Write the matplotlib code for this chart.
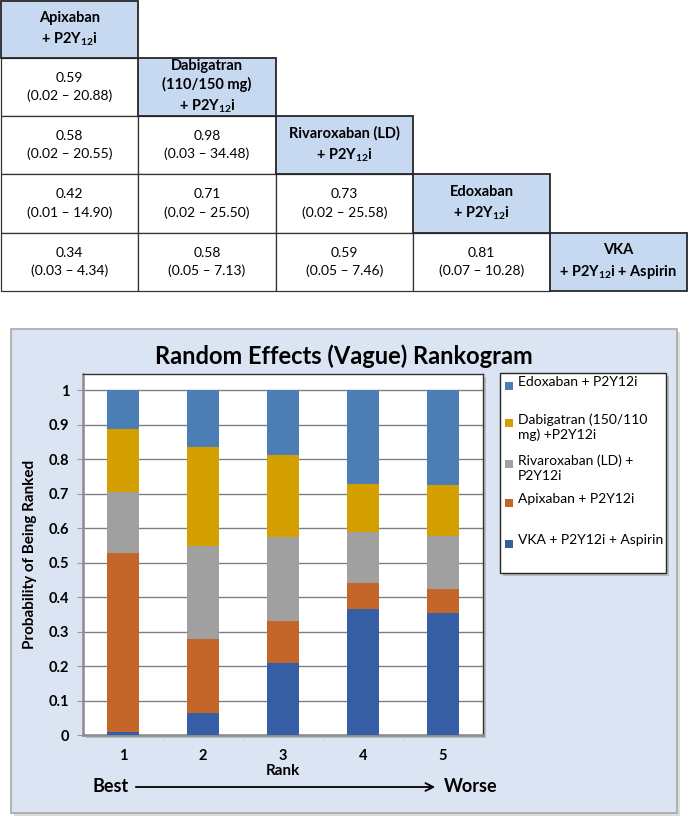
import matplotlib.pyplot as plt
import numpy as np
from matplotlib.patches import Rectangle

plt.rcParams['font.family'] = ['Lato', 'DejaVu Sans']
plt.rcParams['mathtext.fontset'] = 'custom'
plt.rcParams['mathtext.rm'] = 'Lato'
plt.rcParams['mathtext.bf'] = 'Lato:bold'

# league table (odds ratios with 95% CrI)
headers = [
    "Apixaban\n+ P2Y$_{\\mathbf{12}}$i",
    "Dabigatran\n(110/150 mg)\n+ P2Y$_{\\mathbf{12}}$i",
    "Rivaroxaban (LD)\n+ P2Y$_{\\mathbf{12}}$i",
    "Edoxaban\n+ P2Y$_{\\mathbf{12}}$i",
    "VKA\n+ P2Y$_{\\mathbf{12}}$i + Aspirin",
]
or_mean = [[], [0.59], [0.58, 0.98], [0.42, 0.71, 0.73], [0.34, 0.58, 0.59, 0.81]]
or_low = [[], [0.02], [0.02, 0.03], [0.01, 0.02, 0.02], [0.03, 0.05, 0.05, 0.07]]
or_high = [[], [20.88], [20.55, 34.48], [14.90, 25.50, 25.58], [4.34, 7.13, 7.46, 10.28]]

# rankogram
ranks = [1, 2, 3, 4, 5]
vka = [0.008, 0.063, 0.210, 0.365, 0.354]
apix = [0.519, 0.215, 0.121, 0.075, 0.070]
riva = [0.177, 0.271, 0.245, 0.149, 0.154]
dabi = [0.184, 0.288, 0.236, 0.140, 0.148]
edox = [0.112, 0.163, 0.188, 0.271, 0.274]
series = [vka, apix, riva, dabi, edox]
names = ["VKA + P2Y12i + Aspirin", "Apixaban + P2Y12i", "Rivaroxaban (LD) +\nP2Y12i",
         "Dabigatran (150/110\nmg) +P2Y12i", "Edoxaban + P2Y12i"]
colores = ["#355ea5", "#c4652a", "#a0a0a0", "#d4a000", "#4a7eb4"]

W, H = 689, 821
fig = plt.figure(figsize=(W / 100, H / 100), dpi=100)
bg = fig.add_axes([0, 0, 1, 1])
bg.set_xlim(0, W)
bg.set_ylim(H, 0)
bg.axis("off")

# table
col_x = [1, 138, 276, 413, 550, 687]
row_y = [1, 58, 116, 174, 233, 291]
for i in range(5):
    for j in range(i + 1):
        x0, x1 = col_x[j], col_x[j + 1]
        y0, y1 = row_y[i], row_y[i + 1]
        if i == j:
            bg.add_patch(Rectangle((x0, y0), x1 - x0, y1 - y0, facecolor="#c6d9f1",
                                   edgecolor="#262626", lw=1.3, zorder=3))
            bg.text((x0 + x1) / 2, (y0 + y1) / 2, headers[i], ha="center", va="center",
                    fontsize=10.5, fontweight="bold", linespacing=1.4, zorder=4)
        else:
            bg.add_patch(Rectangle((x0, y0), x1 - x0, y1 - y0, facecolor="white",
                                   edgecolor="#333333", lw=0.9, zorder=2))
            txt = f"{or_mean[i][j]:.2f}\n({or_low[i][j]:.2f} – {or_high[i][j]:.2f})"
            bg.text((x0 + x1) / 2, (y0 + y1) / 2, txt, ha="center", va="center",
                    fontsize=10, linespacing=1.55, zorder=4)

# panel
bg.add_patch(Rectangle((14, 332), 666, 484, facecolor="#b8b8b8", edgecolor="none", alpha=0.5))
bg.add_patch(Rectangle((11, 329), 666, 484, facecolor="#dbe4f2", edgecolor="#a8a8a8", lw=1.2))
bg.text(344, 356, "Random Effects (Vague) Rankogram", ha="center", va="center",
        fontsize=17, fontweight="bold")
# plot shadow
bg.add_patch(Rectangle((86, 377), 400, 361, facecolor="#a0a0a0", edgecolor="none", alpha=0.6))

# legend
bg.add_patch(Rectangle((503, 376), 166, 200, facecolor="#a0a0a0", edgecolor="none", alpha=0.6))
bg.add_patch(Rectangle((500, 373), 166, 200, facecolor="white", edgecolor="#262626", lw=1.0))
leg_y = [386, 423, 464, 503, 544]
for k, idx in enumerate([4, 3, 2, 1, 0]):
    bg.add_patch(Rectangle((505, leg_y[k] - 4), 8, 8, facecolor=colores[idx], edgecolor="none"))
    bg.text(518, leg_y[k] - 10, names[idx], ha="left", va="top", fontsize=10, linespacing=1.3)

# best -> worse
bg.text(93, 786, "Best", ha="left", va="center", fontsize=13, fontweight="bold")
bg.annotate("", xy=(438, 787), xytext=(133, 787),
            arrowprops=dict(arrowstyle="->", color="black", lw=1.3, mutation_scale=14))
bg.text(444, 786, "Worse", ha="left", va="center", fontsize=13, fontweight="bold")

# chart axes
ax = fig.add_axes([83 / W, (H - 735) / H, 400 / W, (735 - 374) / H])
ax.set_facecolor("white")
base = np.zeros(len(ranks))
for vals, c in zip(series, colores):
    ax.bar(ranks, vals, width=0.41, bottom=base, color=c, zorder=3)
    base += np.array(vals)

ax.set_xlim(0.5, 5.5)
ax.set_ylim(0, 1.0476)
ax.set_yticks(np.arange(0, 1.01, 0.1))
ax.set_yticklabels(["0", "0.1", "0.2", "0.3", "0.4", "0.5", "0.6", "0.7", "0.8", "0.9", "1"],
                   fontweight="bold", fontsize=10.5)
ax.set_xticks(ranks)
ax.set_xticklabels([str(r) for r in ranks], fontweight="bold", fontsize=10.5)
ax.set_xticks([1.5, 2.5, 3.5, 4.5], minor=True)
ax.tick_params(axis="x", which="major", length=0, pad=10)
ax.tick_params(axis="x", which="minor", length=4, color="#cccccc")
ax.tick_params(axis="y", length=4, color="#999999", pad=6)
ax.grid(True, axis="y", color="#808080", lw=1, zorder=0)
ax.set_ylabel("Probability of Being Ranked", fontweight="bold", fontsize=11, labelpad=8)
ax.set_xlabel("Rank", fontweight="bold", fontsize=11, labelpad=1)
for s in ["top", "right"]:
    ax.spines[s].set_color("#333333")
    ax.spines[s].set_linewidth(1)
for s in ["left", "bottom"]:
    ax.spines[s].set_color("#8c8c8c")
    ax.spines[s].set_linewidth(1.8)

fig.savefig("out.png", dpi=100)
